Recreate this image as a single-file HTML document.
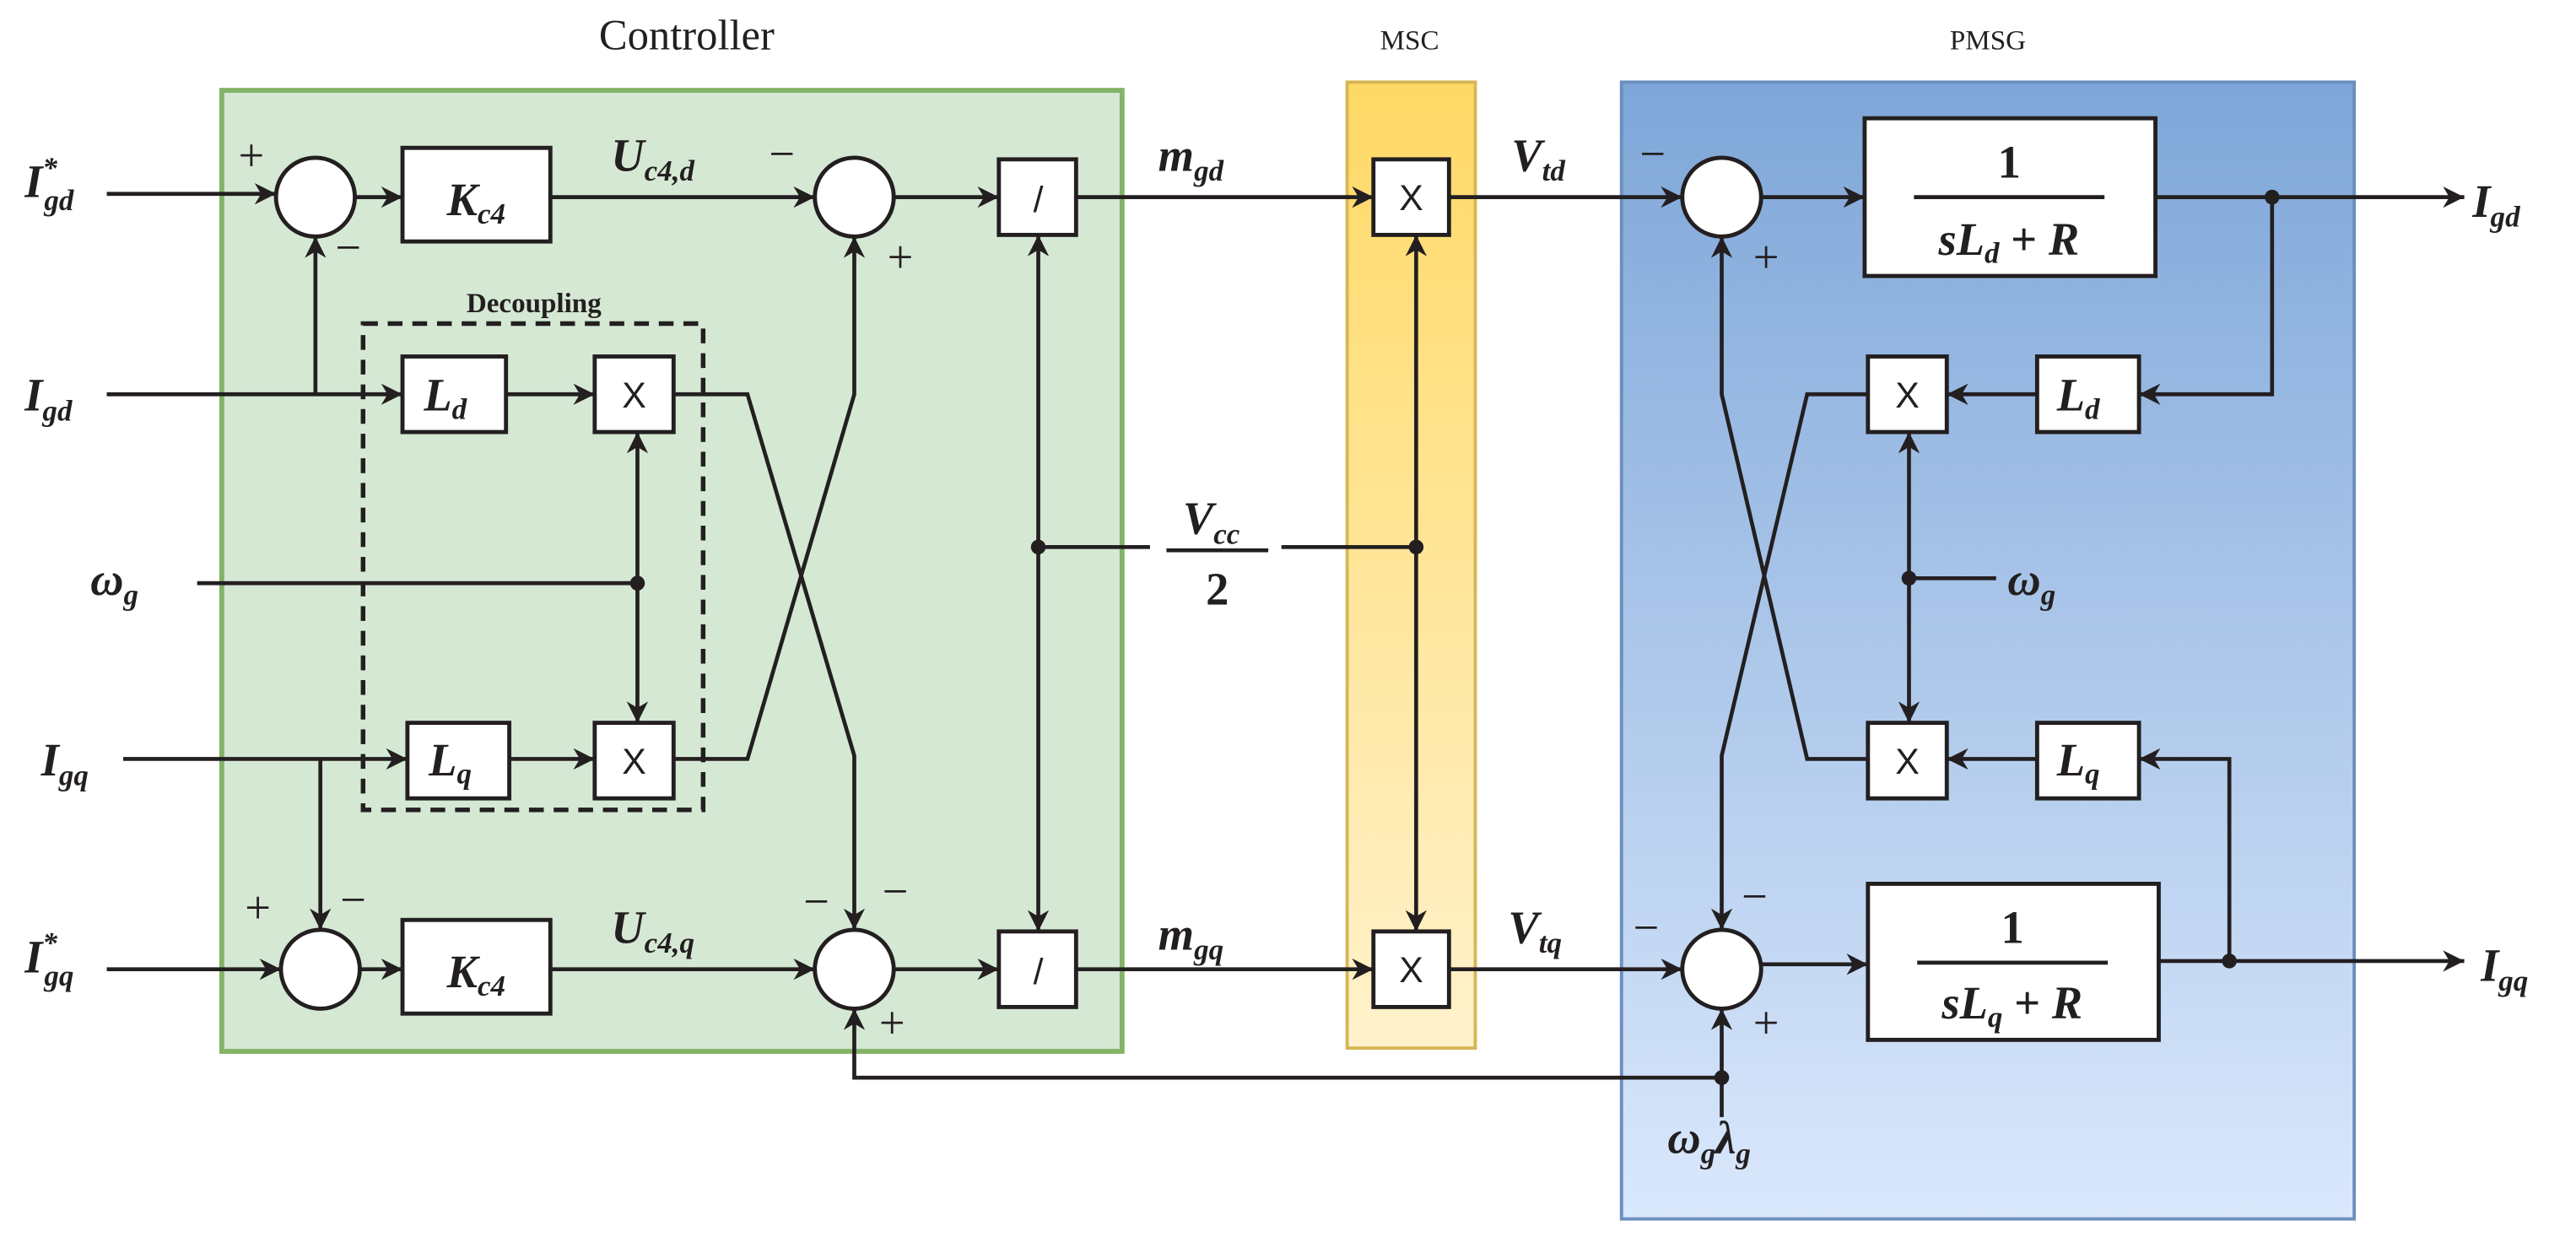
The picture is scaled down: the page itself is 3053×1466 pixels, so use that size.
<!DOCTYPE html>
<html><head><meta charset="utf-8"><style>html,body{margin:0;padding:0;background:#fff}svg{display:block}
.m{font-family:"Liberation Serif",serif;font-style:italic;font-weight:bold;fill:#231f20}
.r{font-family:"Liberation Serif",serif;fill:#231f20}
.s{font-family:"Liberation Sans",sans-serif;fill:#231f20}
</style></head><body>
<svg width="3053" height="1466" viewBox="0 0 1568 753" preserveAspectRatio="none" xmlns="http://www.w3.org/2000/svg">
<defs>
<linearGradient id="gy" x1="0" y1="0" x2="0" y2="1"><stop offset="0" stop-color="#ffd966"/><stop offset="1" stop-color="#fff2cc"/></linearGradient>
<linearGradient id="gb" x1="0" y1="0" x2="0" y2="1"><stop offset="0" stop-color="#7ea6d8"/><stop offset="1" stop-color="#dae8fc"/></linearGradient>
<marker id="a" viewBox="0 0 10 10" refX="10" refY="5" markerWidth="13" markerHeight="13" markerUnits="userSpaceOnUse" orient="auto"><path d="M0,0 L10,5 L0,10 L3,5 z" fill="#231f20"/></marker>
</defs>
<rect x="135" y="55" width="548" height="585" fill="#d5e8d4" stroke="#82b366" stroke-width="3"/>
<rect x="820" y="50" width="78" height="588" fill="url(#gy)" stroke="#d6b656" stroke-width="2"/>
<rect x="987" y="50" width="446" height="692" fill="url(#gb)" stroke="#6c8ebf" stroke-width="2"/>
<text x="418" y="30" class="r" font-size="26" text-anchor="middle">Controller</text>
<text x="858" y="30" class="r" font-size="17" text-anchor="middle">MSC</text>
<text x="1210" y="30" class="r" font-size="17" text-anchor="middle">PMSG</text>
<rect x="221" y="197" width="207" height="296" fill="none" stroke="#231f20" stroke-width="2.8" stroke-dasharray="9,6"/>
<text x="325" y="190" class="r" font-size="17" font-weight="bold" text-anchor="middle">Decoupling</text>
<g stroke="#231f20" stroke-width="2.4" fill="none">
<path d="M65,118 H168" marker-end="url(#a)"/>
<path d="M216,120 H245" marker-end="url(#a)"/>
<path d="M335,120 H496" marker-end="url(#a)"/>
<path d="M544,120 H608" marker-end="url(#a)"/>
<path d="M655,120 H836" marker-end="url(#a)"/>
<path d="M882,120 H1024" marker-end="url(#a)"/>
<path d="M1072,120 H1135" marker-end="url(#a)"/>
<path d="M1312,120 H1500" marker-end="url(#a)"/>
<path d="M1383,120 V240 H1302" marker-end="url(#a)"/>
<path d="M1240,240 H1185" marker-end="url(#a)"/>
<path d="M65,590 H171" marker-end="url(#a)"/>
<path d="M219,590 H245" marker-end="url(#a)"/>
<path d="M335,590 H496" marker-end="url(#a)"/>
<path d="M544,590 H608" marker-end="url(#a)"/>
<path d="M655,590 H836" marker-end="url(#a)"/>
<path d="M882,590 H1024" marker-end="url(#a)"/>
<path d="M1072,587 H1137" marker-end="url(#a)"/>
<path d="M1314,585 H1500" marker-end="url(#a)"/>
<path d="M1357,585 V462 H1302" marker-end="url(#a)"/>
<path d="M1240,462 H1185" marker-end="url(#a)"/>
<path d="M65,240 H245" marker-end="url(#a)"/>
<path d="M192,240 V144" marker-end="url(#a)"/>
<path d="M308,240 H362" marker-end="url(#a)"/>
<path d="M75,462 H248" marker-end="url(#a)"/>
<path d="M195,462 V566" marker-end="url(#a)"/>
<path d="M310,462 H362" marker-end="url(#a)"/>
<path d="M120,355 H388"/>
<path d="M388,355 V263" marker-end="url(#a)"/>
<path d="M388,355 V440" marker-end="url(#a)"/>
<path d="M410,240 H455 L520,460 V566" marker-end="url(#a)"/>
<path d="M410,462 H455 L520,240 V144" marker-end="url(#a)"/>
<path d="M632,333 V143" marker-end="url(#a)"/>
<path d="M632,333 V567" marker-end="url(#a)"/>
<path d="M632,333 H700"/>
<path d="M780,333 H862"/>
<path d="M862,333 V143" marker-end="url(#a)"/>
<path d="M862,333 V567" marker-end="url(#a)"/>
<path d="M1137,240 H1100 L1048,460 V566" marker-end="url(#a)"/>
<path d="M1137,462 H1100 L1048,240 V144" marker-end="url(#a)"/>
<path d="M1162,352 V263" marker-end="url(#a)"/>
<path d="M1162,352 V440" marker-end="url(#a)"/>
<path d="M1162,352 H1215"/>
<path d="M1048,680 V614" marker-end="url(#a)"/>
<path d="M1048,656 H520 V614" marker-end="url(#a)"/>
<line x1="710" y1="335" x2="772" y2="335"/>
</g>
<g fill="#231f20">
<circle cx="388" cy="355" r="4.5"/><circle cx="632" cy="333" r="4.5"/><circle cx="862" cy="333" r="4.5"/>
<circle cx="1383" cy="120" r="4.5"/><circle cx="1357" cy="585" r="4.5"/><circle cx="1162" cy="352" r="4.5"/><circle cx="1048" cy="656" r="4.5"/>
</g>
<g fill="#fff" stroke="#231f20" stroke-width="2.5">
<ellipse cx="192" cy="120" rx="24" ry="24"/><ellipse cx="520" cy="120" rx="24" ry="24"/>
<ellipse cx="195" cy="590" rx="24" ry="24"/><ellipse cx="520" cy="590" rx="24" ry="24"/>
<ellipse cx="1048" cy="120" rx="24" ry="24"/><ellipse cx="1048" cy="590" rx="24" ry="24"/>
<rect x="245" y="90" width="90" height="57"/><rect x="245" y="560" width="90" height="57"/>
<rect x="608" y="97" width="47" height="46"/><rect x="608" y="567" width="47" height="46"/>
<rect x="245" y="217" width="63" height="46"/><rect x="362" y="217" width="48" height="46"/>
<rect x="248" y="440" width="62" height="46"/><rect x="362" y="440" width="48" height="46"/>
<rect x="836" y="97" width="46" height="46"/><rect x="836" y="567" width="46" height="46"/>
<rect x="1135" y="72" width="177" height="96"/><rect x="1137" y="538" width="177" height="95"/>
<rect x="1137" y="217" width="48" height="46"/><rect x="1240" y="217" width="62" height="46"/>
<rect x="1137" y="440" width="48" height="46"/><rect x="1240" y="440" width="62" height="46"/>
</g>
<g class="s" font-size="22" text-anchor="middle">
<text x="386" y="248">X</text><text x="386" y="471">X</text><text x="859" y="128">X</text><text x="859" y="598">X</text>
<text x="1161" y="248">X</text><text x="1161" y="471">X</text>
<text x="632" y="129">/</text><text x="632" y="599">/</text>
</g>
<g class="m" font-size="28">
<text x="272" y="131">K<tspan font-size="18" dy="5">c4</tspan></text>
<text x="272" y="601">K<tspan font-size="18" dy="5">c4</tspan></text>
<text x="258" y="250">L<tspan font-size="18" dy="5">d</tspan></text>
<text x="261" y="472">L<tspan font-size="18" dy="5">q</tspan></text>
<text x="1252" y="250">L<tspan font-size="18" dy="5">d</tspan></text>
<text x="1252" y="472">L<tspan font-size="18" dy="5">q</tspan></text>
<text x="15" y="120">I<tspan font-size="18" dy="-12">*</tspan><tspan font-size="18" dx="-8" dy="20">gd</tspan></text>
<text x="15" y="250">I<tspan font-size="18" dy="6">gd</tspan></text>
<text x="25" y="472">I<tspan font-size="18" dy="6">gq</tspan></text>
<text x="15" y="592">I<tspan font-size="18" dy="-12">*</tspan><tspan font-size="18" dx="-8" dy="20">gq</tspan></text>
<text x="55" y="362">ω<tspan font-size="18" dy="6">g</tspan></text>
<text x="1222" y="362">ω<tspan font-size="18" dy="6">g</tspan></text>
<text x="372" y="104">U<tspan font-size="18" dy="6">c4,d</tspan></text>
<text x="372" y="574">U<tspan font-size="18" dy="6">c4,q</tspan></text>
<text x="705" y="104">m<tspan font-size="18" dy="6">gd</tspan></text>
<text x="705" y="578">m<tspan font-size="18" dy="6">gq</tspan></text>
<text x="920" y="104">V<tspan font-size="18" dy="6">td</tspan></text>
<text x="918" y="574">V<tspan font-size="18" dy="6">tq</tspan></text>
<text x="1505" y="132">I<tspan font-size="18" dy="6">gd</tspan></text>
<text x="1510" y="597">I<tspan font-size="18" dy="6">gq</tspan></text>
<text x="1015" y="702">ω<tspan font-size="18" dy="6">g</tspan><tspan dy="-6">λ</tspan><tspan font-size="18" dy="6">g</tspan></text>
<text x="720" y="325">V<tspan font-size="18" dy="6">cc</tspan></text>
<text x="1180" y="155">sL<tspan font-size="18" dy="5">d</tspan><tspan dy="-5" font-style="normal"> + </tspan>R</text>
<text x="1182" y="620">sL<tspan font-size="18" dy="5">q</tspan><tspan dy="-5" font-style="normal"> + </tspan>R</text>
</g>
<g class="r" font-size="28" font-weight="bold" text-anchor="middle">
<text x="741" y="368">2</text>
<text x="1223" y="108">1</text><text x="1225" y="574">1</text>
</g>
<g stroke="#231f20" stroke-width="2.4">
<line x1="1165" y1="120" x2="1281" y2="120"/><line x1="1167" y1="586" x2="1283" y2="586"/>
</g>
<g class="r" font-size="28" text-anchor="middle">
<text x="153" y="104">+</text><text x="212" y="160">−</text>
<text x="476" y="103">−</text><text x="548" y="166">+</text>
<text x="1006" y="103">−</text><text x="1075" y="166">+</text>
<text x="157" y="562">+</text><text x="215" y="557">−</text>
<text x="497" y="558">−</text><text x="545" y="552">−</text><text x="543" y="632">+</text>
<text x="1002" y="574">−</text><text x="1068" y="555">−</text><text x="1075" y="632">+</text>
</g>
</svg>
</body></html>
